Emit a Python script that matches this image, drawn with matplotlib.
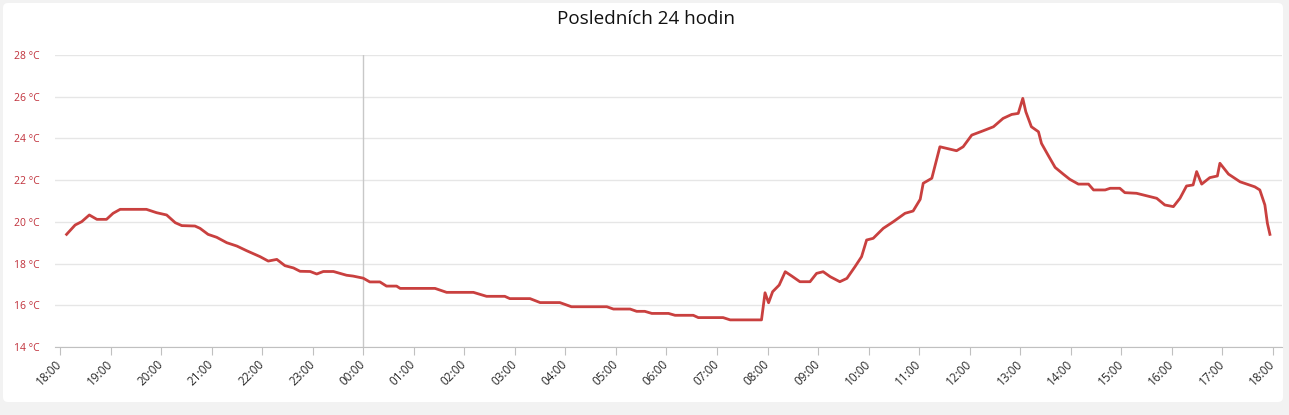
import matplotlib
matplotlib.use("Agg")
import matplotlib.pyplot as plt
from matplotlib.patches import FancyBboxPatch

# hours since 18:00 of the previous day
hours = [0.13, 0.30, 0.43, 0.58, 0.73, 0.92, 1.05, 1.19, 1.71, 1.91, 2.11, 2.28, 2.41, 2.67, 2.77,
         2.93, 3.10, 3.30, 3.50, 3.69, 3.96, 4.12, 4.29, 4.45, 4.62, 4.75, 4.95, 5.08, 5.21, 5.41,
         5.67, 5.80, 6.00, 6.13, 6.33, 6.46, 6.66, 6.73, 7.42, 7.65, 8.18, 8.44, 8.80, 8.90, 9.30,
         9.50, 9.89, 10.12, 10.82, 10.95, 11.28, 11.41, 11.57, 11.71, 12.04, 12.17, 12.53, 12.63,
         13.12, 13.26, 13.88, 13.95, 14.02, 14.10, 14.23, 14.35, 14.48, 14.64, 14.84, 14.97, 15.10,
         15.24, 15.43, 15.57, 15.73, 15.86, 15.96, 16.09, 16.29, 16.49, 16.72, 16.88, 17.02, 17.08,
         17.25, 17.41, 17.74, 17.87, 18.04, 18.27, 18.47, 18.66, 18.83, 18.96, 19.05, 19.11, 19.22,
         19.36, 19.42, 19.55, 19.69, 19.85, 19.98, 20.15, 20.35, 20.45, 20.68, 20.78, 20.97, 21.07,
         21.30, 21.70, 21.86, 22.03, 22.16, 22.29, 22.42, 22.49, 22.59, 22.75, 22.90, 22.95, 23.12,
         23.35, 23.64, 23.74, 23.84, 23.89, 23.94]
temps = [19.40, 19.85, 20.01, 20.33, 20.12, 20.12, 20.41, 20.60, 20.60, 20.44, 20.33, 19.96, 19.82, 19.80, 19.69,
         19.40, 19.26, 19.00, 18.84, 18.62, 18.33, 18.12, 18.20, 17.90, 17.79, 17.63, 17.62, 17.50, 17.62, 17.62,
         17.44, 17.40, 17.30, 17.12, 17.12, 16.92, 16.92, 16.81, 16.81, 16.62, 16.62, 16.43, 16.43, 16.32, 16.32,
         16.13, 16.13, 15.93, 15.93, 15.82, 15.82, 15.71, 15.71, 15.61, 15.61, 15.52, 15.52, 15.41,
         15.41, 15.30, 15.30, 16.60, 16.12, 16.65, 16.97, 17.61, 17.40, 17.13, 17.13, 17.53, 17.61,
         17.37, 17.13, 17.29, 17.85, 18.33, 19.13, 19.21, 19.69, 20.01, 20.41, 20.52, 21.08, 21.85,
         22.09, 23.60, 23.41, 23.60, 24.16, 24.37, 24.56, 24.96, 25.15, 25.20, 25.92, 25.28, 24.56,
         24.32, 23.76, 23.20, 22.61, 22.29, 22.04, 21.81, 21.81, 21.53, 21.53, 21.61, 21.61, 21.40,
         21.37, 21.13, 20.81, 20.73, 21.13, 21.72, 21.77, 22.41, 21.81, 22.12, 22.20, 22.81, 22.29,
         21.92, 21.68, 21.53, 20.81, 19.93, 19.40]

tick_labels = ["18:00", "19:00", "20:00", "21:00", "22:00", "23:00", "00:00", "01:00", "02:00",
               "03:00", "04:00", "05:00", "06:00", "07:00", "08:00", "09:00", "10:00", "11:00",
               "12:00", "13:00", "14:00", "15:00", "16:00", "17:00", "18:00"]
y_ticks = [14, 16, 18, 20, 22, 24, 26, 28]
midnight = 6

plt.rcParams['font.family'] = ['Open Sans', 'DejaVu Sans']

fig = plt.figure(figsize=(12.89, 4.15), dpi=100, facecolor="#f2f2f2")
card = FancyBboxPatch((3, 13), 1280, 399, boxstyle="round,pad=0,rounding_size=5",
                      transform=None, facecolor="white", edgecolor="none", zorder=-10)
fig.patches.append(card)

ax = fig.add_axes([55 / 1289, 1 - 347 / 415, (1282 - 55) / 1289, (347 - 55) / 415])
ax.set_facecolor("none")

ax.plot(hours, temps, color="#c9403f", lw=2, solid_joinstyle="round", zorder=3)
ax.axvline(midnight, color="#c8c8c8", lw=1, zorder=2)

ax.set_xlim((55 - 60) / 50.54, (1282 - 60) / 50.54)
ax.set_ylim(14, 28)
ax.set_yticks(y_ticks)
ax.set_yticklabels([f"{v} °C" for v in y_ticks], color="#c0303a", fontsize=7.5)
ax.set_xticks(range(len(tick_labels)))
ax.set_xticklabels(tick_labels, rotation=45, ha="right", va="center",
                   rotation_mode="anchor", fontsize=8.5, color="#2a2a2a")
ax.tick_params(axis="y", length=0, pad=11)
ax.tick_params(axis="x", length=6, color="#c0c0c0", pad=5)
ax.grid(axis="y", color="#e6e6e6", lw=1)
ax.set_axisbelow(True)
for s in ["top", "right", "left"]:
    ax.spines[s].set_visible(False)
ax.spines["bottom"].set_color("#c0c0c0")

fig.text(646 / 1289, 1 - 19 / 415, "Posledních 24 hodin", ha="center", va="center",
         fontsize=13.6, color="#111111")

fig.savefig("out.png", dpi=100, facecolor=fig.get_facecolor())
